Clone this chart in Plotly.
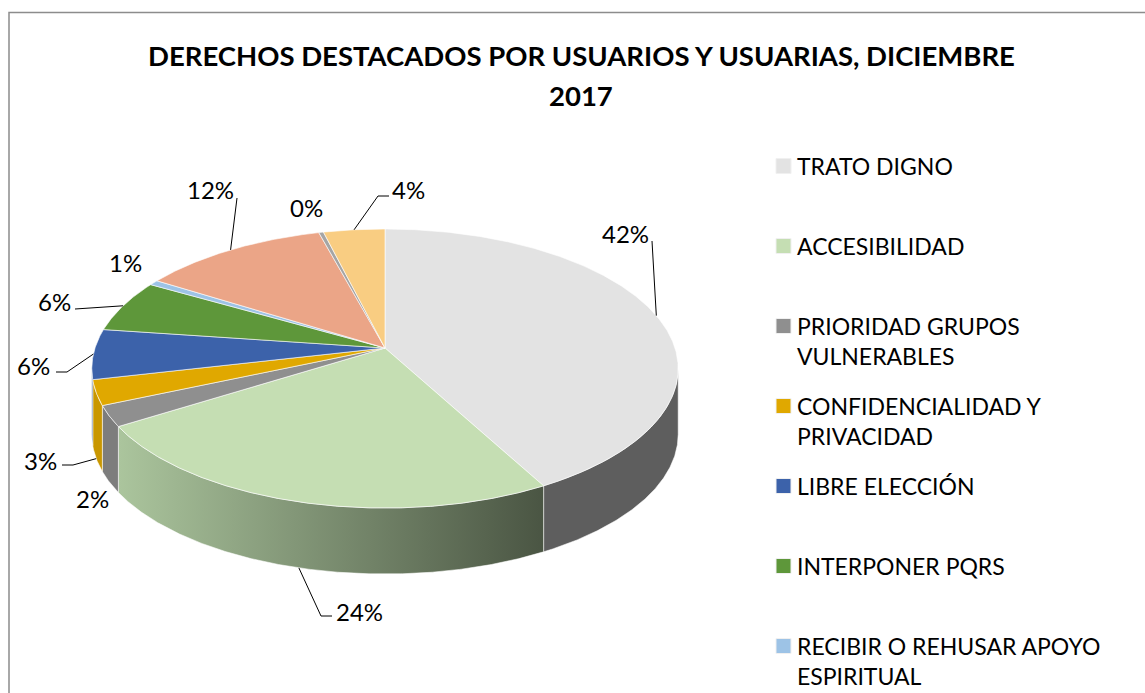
import textwrap
import numpy as np
import plotly.graph_objects as go

# ---------------- data ----------------
title_text = "DERECHOS DESTACADOS POR USUARIOS Y USUARIAS, DICIEMBRE 2017"
categories = [
    "TRATO DIGNO",
    "ACCESIBILIDAD",
    "PRIORIDAD GRUPOS VULNERABLES",
    "CONFIDENCIALIDAD Y PRIVACIDAD",
    "LIBRE ELECCIÓN",
    "INTERPONER PQRS",
    "RECIBIR O REHUSAR APOYO ESPIRITUAL",
    "INFORMACIÓN",
    "SEGUNDA OPINIÓN",
    "MORIR CON DIGNIDAD",
]
values = [42.1, 24.0, 2.4, 2.9, 5.8, 6.1, 0.6, 11.9, 0.3, 3.9]

# ---------------- style ----------------
top_colors = ["#E3E3E3", "#C5DEB3", "#8F8F8F", "#E0A800", "#3C62AA",
              "#5E973A", "#9DC3E6", "#EBA587", "#A5A5A5", "#F9CD82"]
wall_colors = ["#5E5E5E", None, "#7D7D7D", "#C99700", "#33548F",
               "#507F31", "#86A6C4", "#C98C72", "#8C8C8C", "#D4AE6E"]
wall_gradient = {1: [[0, "#ABC59D"], [1, "#4A5543"]]}

CX, CY = 385, 348          # pie centre (px)
RX, RY = 290, 136.5        # projected radii
PERSP = 0.147              # perspective factor
DEPTH = 66                 # pie thickness (px)
W, H = 1145, 693
FONT = "Lato, 'Open Sans', sans-serif"

# label layout: centre of label, attach point ("top"/"bottom"/None), bend points
label_pos = [(625, 233), (359, 611), (92, 498), (40, 460), (33, 365),
             (54, 301), (125, 262), (210, 189), (306, 207), (408, 189)]
leader_attach = ["top", "bottom", None, "bottom", "top", "top", None, "top", None, "top"]
leader_bends = [[(652, 241)], [(321, 616), (332, 616)], [], [(73, 465), (62, 465)],
                [(67, 372), (56, 372)], [(75, 309)], [], [(237, 198)], [],
                [(378, 196), (389, 196)]]


def proj(t_deg):
    t = np.radians(np.asarray(t_deg, dtype=float))
    u, v = np.cos(t), np.sin(t)
    d = 1 + PERSP * v
    return CX + RX * u / d, CY - RY * v / d


total = float(sum(values))
pct_text = [f"{round(v / total * 100):.0f}%" for v in values]
cum = np.concatenate([[0.0], np.cumsum(values)])
start = 90 - 360 * cum[:-1] / total
end = 90 - 360 * cum[1:] / total

fig = go.Figure()

# ---------- side walls (front half only) ----------
vis_lo = -180 + np.degrees(np.arcsin(PERSP))
vis_hi = -np.degrees(np.arcsin(PERSP))
for i in range(len(values)):
    a = max(end[i], vis_lo)
    b = min(start[i], vis_hi)
    if b <= a:
        continue
    ts = np.linspace(a, b, max(3, int((b - a) * 3)))
    x, y = proj(ts)
    xs = np.concatenate([x, x[::-1], x[:1]])
    ys = np.concatenate([y, y[::-1] + DEPTH, y[:1]])
    kw = dict(fillcolor=wall_colors[i])
    if i in wall_gradient:
        kw = dict(fillgradient=dict(type="horizontal", colorscale=wall_gradient[i]))
    fig.add_trace(go.Scatter(x=xs, y=ys, mode="lines", fill="toself",
                             line=dict(color="rgba(255,255,255,0.55)", width=1),
                             hoverinfo="skip", showlegend=False, **kw))

# ---------- top faces ----------
for i in range(len(values)):
    n = max(3, int(abs(start[i] - end[i]) * 3))
    ts = np.linspace(start[i], end[i], n)
    x, y = proj(ts)
    xs = np.concatenate([[CX], x, [CX]])
    ys = np.concatenate([[CY], y, [CY]])
    fig.add_trace(go.Scatter(x=xs, y=ys, mode="lines", fill="toself",
                             fillcolor=top_colors[i],
                             line=dict(color="rgba(255,255,255,0.6)", width=1),
                             name=categories[i], text=pct_text[i],
                             hoverinfo="name+text", showlegend=False))

# ---------- leader lines & data labels ----------
annotations = []
for i in range(len(values)):
    lx, ly = label_pos[i]
    if leader_attach[i] is not None:
        mid = (start[i] + end[i]) / 2
        px, py = proj(mid)
        if leader_attach[i] == "bottom":
            py = py + DEPTH
        pts = [(float(px), float(py))] + leader_bends[i]
        fig.add_trace(go.Scatter(x=[p[0] for p in pts], y=[p[1] for p in pts],
                                 mode="lines", line=dict(color="#000000", width=1),
                                 hoverinfo="skip", showlegend=False))
    annotations.append(dict(x=lx, y=ly, xref="x", yref="y", text=pct_text[i],
                            showarrow=False, xanchor="center", yanchor="middle",
                            font=dict(family=FONT, size=24, color="#000000")))

# ---------- title ----------
t1, t2 = title_text.rsplit(" ", 1)
for txt, ty in ((t1, 55), (t2, 95)):
    annotations.append(dict(x=581, y=ty, xref="x", yref="y", text=f"<b>{txt}</b>",
                            showarrow=False, xanchor="center", yanchor="middle",
                            font=dict(family=FONT, size=27.5, color="#000000")))

# ---------- legend (drawn as shapes + text) ----------
shapes = []
for i, cat in enumerate(categories):
    y0 = 166 + 80 * i
    shapes.append(dict(type="rect", xref="x", yref="y", x0=776, x1=791,
                       y0=y0 - 7.5, y1=y0 + 7.5, fillcolor=top_colors[i],
                       line=dict(color="#F0F0F0", width=1)))
    for j, line in enumerate(textwrap.wrap(cat, 23)):
        annotations.append(dict(x=795, y=y0 + 30 * j, xref="x", yref="y", text=line,
                                showarrow=False, xanchor="left", yanchor="middle",
                                font=dict(family=FONT, size=23, color="#000000")))

# chart frame
shapes.append(dict(type="rect", xref="x", yref="y", x0=9, x1=1170, y0=12.5, y1=720,
                   line=dict(color="#8C8C8C", width=1.5), fillcolor="rgba(0,0,0,0)"))

fig.update_layout(
    width=W, height=H,
    margin=dict(l=0, r=0, t=0, b=0, pad=0),
    paper_bgcolor="white", plot_bgcolor="white",
    xaxis=dict(range=[0, W], visible=False, fixedrange=True),
    yaxis=dict(range=[H, 0], visible=False, fixedrange=True),
    annotations=annotations, shapes=shapes, showlegend=False,
)

fig.write_html(
    "out.html",
    config={"displayModeBar": False},
    post_script="document.body.style.margin='0';document.body.style.overflow='hidden';",
)
